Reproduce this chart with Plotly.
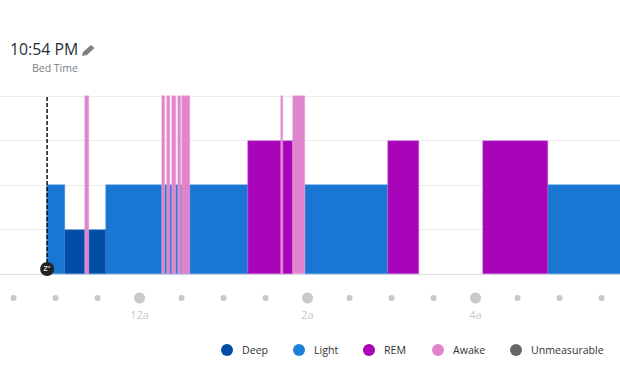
import plotly.graph_objects as go

# minutes relative to midnight; each stage: segment start, segment end
deep_start = [-53]
deep_end = [-24]
light_start = [-66, -24, 118, 292]
light_end = [-53, 77.4, 177.4, 346]
rem_start = [77.4, 177.4, 245.3]
rem_end = [109.4, 199.4, 292]
awake_start = [-38.7, 16.3, 19.6, 23.2, 27.4, 30.4, 101.3, 109.4]
awake_end = [-35.9, 18.4, 22, 26.2, 29.5, 36.2, 102.3, 118]

levels = {"Deep": 1, "Light": 2, "REM": 3, "Awake": 4}
colors = {"Deep": "#014DA6", "Light": "#1976D2", "REM": "#A805BA",
          "Awake": "#E085CB", "Unmeasurable": "#666666"}
edges = {"Deep": "#2f74c4", "Light": "#4a94e0", "REM": "#c060d0", "Awake": "#e9a6d8"}
legend_names = ["Deep", "Light", "REM", "Awake", "Unmeasurable"]
legend_colors = ["#014DA6", "#1E7FD8", "#A805BA", "#E085CB", "#666666"]

dot_minutes = [-90, -60, -30, 0, 30, 60, 90, 120, 150, 180, 210, 240, 270, 300, 330]
major_minutes = [0, 120, 240]
major_labels = ["12a", "2a", "4a"]
bed_minute = -66

W, H = 620, 380
L_T, L_ZERO, L_B = 90, 274, 307
PX_PER_LEVEL = 44.5
xmin = (0 - 139.5) / 1.4
xmax = (620 - 139.5) / 1.4
ymin = -(L_B - L_ZERO) / PX_PER_LEVEL
ymax = (L_ZERO - L_T) / PX_PER_LEVEL
dot_y = -(298 - L_ZERO) / PX_PER_LEVEL
icon_y = (L_ZERO - 269) / PX_PER_LEVEL


def py(y):
    return (L_B - y) / (L_B - L_T)


fig = go.Figure()
segments = [("Light", light_start, light_end), ("Deep", deep_start, deep_end),
            ("REM", rem_start, rem_end), ("Awake", awake_start, awake_end)]
for name, s, e in segments:
    fig.add_bar(x=s, y=[levels[name]] * len(s), width=[b - a for a, b in zip(s, e)], offset=0,
                marker=dict(color=colors[name], line=dict(color=edges[name], width=0.5)),
                showlegend=False, hoverinfo="skip", name=name)

minor = [m for m in dot_minutes if m not in major_minutes]
fig.add_scatter(x=minor, y=[dot_y] * len(minor), mode="markers", cliponaxis=False,
                marker=dict(size=6, color="#C9C9C9"), showlegend=False, hoverinfo="skip")
fig.add_scatter(x=major_minutes, y=[dot_y] * len(major_minutes), mode="markers", cliponaxis=False,
                marker=dict(size=11, color="#C9C9C9"), showlegend=False, hoverinfo="skip")

fig.add_scatter(x=[bed_minute, bed_minute], y=[icon_y, 4], mode="lines", cliponaxis=False,
                line=dict(color="#111111", width=1.5, dash="4px,2px"), showlegend=False, hoverinfo="skip")
fig.add_scatter(x=[bed_minute], y=[icon_y], mode="markers+text", cliponaxis=False, text=["zᶻ"],
                textposition="middle center", textfont=dict(size=8, color="#ffffff", family="DejaVu Sans"),
                marker=dict(size=14, color="#222222"), showlegend=False, hoverinfo="skip")

legend_dot_x = [227, 299, 369, 438, 516]
legend_text_x = [242, 314, 384, 453, 531]
for name, color, dx, tx in zip(legend_names, legend_colors, legend_dot_x, legend_text_x):
    fig.add_shape(type="circle", xref="paper", yref="paper", x0=(dx - 6) / W, x1=(dx + 6) / W,
                  y0=py(356), y1=py(344), fillcolor=color, line=dict(width=0))
    fig.add_annotation(xref="paper", yref="paper", x=(tx - 2) / W, y=py(350), text=name, showarrow=False,
                       xanchor="left", yanchor="middle", font=dict(family="Open Sans", size=10.6, color="#333333"))

fig.add_annotation(xref="paper", yref="paper", x=8 / W, y=py(49), text="10:54 PM", showarrow=False,
                   xanchor="left", yanchor="middle", font=dict(family="Open Sans", size=15.8, color="#25303b"))
fig.add_annotation(xref="paper", yref="paper", x=30 / W, y=py(68), text="Bed Time", showarrow=False,
                   xanchor="left", yanchor="middle", font=dict(family="Open Sans", size=10.5, color="#7a7e84"))


def pencil():
    pts = [(82, 56), (83, 52), (91, 45), (94.5, 48), (87, 55)]
    return "M " + " L ".join(f"{x / W:.5f},{py(y):.5f}" for x, y in pts) + " Z"


fig.add_shape(type="path", xref="paper", yref="paper", path=pencil(), fillcolor="#808080", line=dict(width=0))

fig.update_layout(
    width=W, height=H, margin=dict(l=0, r=0, t=L_T, b=H - L_B),
    paper_bgcolor="white", plot_bgcolor="white", barmode="overlay", bargap=0,
    font=dict(family="Open Sans", size=11, color="#333333"), showlegend=False,
    xaxis=dict(range=[xmin, xmax], tickmode="array", tickvals=major_minutes, ticktext=major_labels,
               ticks="", showgrid=False, zeroline=False, showline=False,
               tickfont=dict(family="Open Sans", size=11, color="#C8C8C8")),
    yaxis=dict(range=[ymin, ymax], tickmode="array", tickvals=[1, 2, 3, 4], showticklabels=False,
               showgrid=True, gridcolor="#ECECEC", gridwidth=1, zeroline=True,
               zerolinecolor="#D5DDE8", zerolinewidth=1),
)
fig.write_html("out.html", post_script="document.body.style.margin='0';", config={"displayModeBar": False})
